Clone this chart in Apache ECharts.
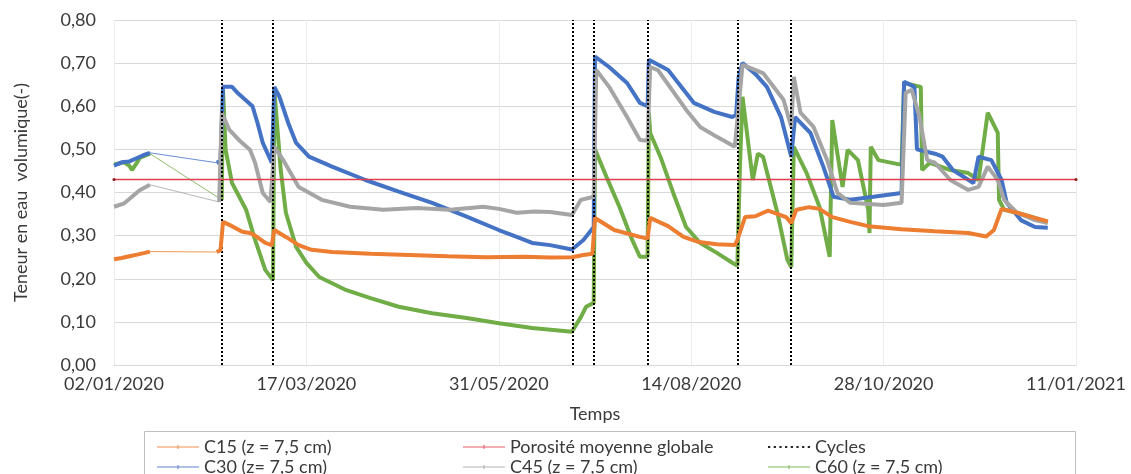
<!DOCTYPE html>
<html>
<head>
<meta charset="utf-8">
<script src="https://cdn.jsdelivr.net/npm/echarts@6/dist/echarts.min.js"></script>
<style>
  html, body { margin: 0; padding: 0; background: #fff; }
  #chart { width: 1131px; height: 474px; }
</style>
</head>
<body>
<div id="chart"></div>
<script>
// Days counted from 02/01/2020
const START_DATE = Date.UTC(2020, 0, 2);
const X_MAX_DAYS = 375;
const X_STEP_DAYS = 75;
const Y_TICKS = [0, 0.1, 0.2, 0.3, 0.4, 0.5, 0.6, 0.7, 0.8];

const porosity = 0.43;
const cycleDays = [42, 62, 179, 187, 208, 243, 264];

// C15 (orange)
const c15Early = [[0,0.245],[3,0.248],[6,0.252],[9,0.256],[12,0.260],[14,0.263]];
const c15Main = [[40,0.262],[41.5,0.266],[42.5,0.332],[46,0.322],[50,0.309],[53,0.306],[55,0.300],[59,0.283],[61.5,0.278],[62.5,0.313],[67,0.297],[72,0.278],[77,0.267],[85,0.262],[100,0.258],[115,0.255],[130,0.252],[145,0.250],[160,0.251],[170,0.249],[178.5,0.250],[183,0.255],[186.5,0.258],[187.5,0.341],[195,0.313],[205,0.297],[208,0.293],[209,0.341],[216,0.322],[222,0.297],[228,0.285],[235,0.280],[242,0.278],[243,0.290],[246,0.343],[250,0.345],[255,0.358],[262,0.343],[264,0.329],[266,0.360],[271,0.366],[275,0.362],[280,0.343],[287,0.332],[294,0.322],[307,0.315],[320,0.310],[333,0.306],[340,0.298],[343,0.313],[346,0.362],[352,0.353],[359,0.341],[364,0.333]];

// C30 (blue)
const c30Early = [[0,0.462],[3,0.470],[6,0.472],[9,0.480],[12,0.488],[14,0.492]];
const c30Main = [[40,0.469],[41.5,0.472],[42.5,0.645],[46,0.645],[48,0.632],[54,0.600],[56,0.560],[58,0.515],[61.5,0.469],[62.5,0.645],[64.5,0.622],[68,0.560],[71,0.515],[76,0.483],[85,0.460],[98,0.429],[111,0.402],[124,0.376],[137,0.345],[150,0.313],[157,0.297],[163,0.283],[170,0.278],[178.5,0.268],[183,0.290],[187,0.320],[187.5,0.715],[193,0.691],[200,0.654],[205,0.608],[208,0.600],[208.5,0.708],[216,0.684],[226,0.608],[234,0.587],[241,0.575],[242.5,0.580],[243.5,0.668],[245,0.700],[250,0.675],[254.5,0.645],[260,0.575],[264,0.483],[265.5,0.575],[271.5,0.538],[276.5,0.460],[280.5,0.390],[287,0.383],[296,0.390],[307,0.399],[308,0.657],[312,0.645],[313,0.500],[320,0.490],[323,0.483],[327,0.452],[335,0.422],[337,0.483],[342,0.475],[346,0.429],[348,0.376],[353.5,0.336],[359,0.320],[364,0.318]];

// C45 (grey)
const c45Early = [[0,0.367],[4,0.375],[7,0.390],[10,0.405],[14,0.418]];
const c45Main = [[41,0.378],[42,0.585],[45,0.545],[49,0.520],[53,0.499],[55,0.469],[58,0.399],[61,0.378],[62.5,0.506],[66,0.475],[72,0.413],[81,0.383],[92,0.367],[105,0.360],[118,0.364],[131,0.360],[144,0.367],[150,0.362],[157,0.353],[164,0.356],[170,0.355],[178.5,0.348],[182,0.383],[187,0.390],[188,0.684],[193,0.645],[200,0.575],[205,0.522],[208,0.520],[209,0.691],[212,0.684],[223,0.592],[228.5,0.552],[235,0.529],[242,0.506],[243.5,0.600],[245,0.696],[253,0.677],[261,0.615],[264,0.552],[265,0.668],[267.6,0.585],[272.7,0.552],[278,0.475],[282,0.399],[287,0.376],[300,0.371],[307,0.376],[308.6,0.631],[311,0.638],[314,0.575],[317,0.475],[320,0.469],[326,0.429],[333,0.406],[337,0.413],[340.6,0.460],[344.5,0.429],[347,0.383],[352,0.353],[359,0.336],[364,0.329]];

// C60 (green)
const c60Early = [[0,0.465],[4,0.470],[6,0.462],[7,0.452],[8.5,0.465],[10,0.480],[14,0.490]];
const c60Main = [[42,0.383],[42.5,0.638],[43.5,0.500],[46,0.422],[51.5,0.360],[55,0.290],[59,0.220],[62,0.197],[62.5,0.638],[65,0.452],[67,0.353],[71,0.274],[75,0.237],[80,0.204],[90,0.175],[100,0.155],[111,0.135],[124,0.120],[137.5,0.109],[150,0.097],[163,0.086],[178.5,0.077],[182,0.111],[184,0.135],[187,0.144],[187.5,0.500],[192,0.436],[197,0.367],[202,0.290],[205,0.251],[208,0.251],[208.5,0.585],[209,0.538],[213,0.483],[218,0.399],[223,0.320],[228.5,0.283],[235,0.260],[241,0.237],[243,0.230],[244,0.460],[245,0.622],[249,0.429],[251,0.490],[253,0.483],[258.6,0.353],[262.5,0.244],[264,0.227],[265,0.506],[270,0.445],[275,0.367],[279,0.251],[280,0.568],[282,0.490],[284,0.413],[286,0.499],[290,0.475],[294,0.360],[294.5,0.306],[295,0.506],[298,0.475],[307,0.464],[308,0.654],[314.5,0.645],[315,0.452],[318,0.469],[326,0.452],[333,0.445],[337,0.429],[340.6,0.585],[344.5,0.538],[345,0.383],[347,0.360],[352,0.353],[359,0.341],[364,0.332]];

const NAMES = {
  c15: 'C15 (z = 7,5 cm)',
  por: 'Porosité moyenne globale',
  cyc: 'Cycles',
  c30: 'C30 (z= 7,5 cm)',
  c45: 'C45 (z = 7,5 cm)',
  c60: 'C60 (z = 7,5 cm)'
};
const COLORS = { c15: '#ED7D31', c30: '#4472C4', c45: '#A5A5A5', c60: '#70AD47', por: '#E0404E', cyc: '#000000' };

function pad(n) { return (n < 10 ? '0' : '') + n; }
function fmtDate(d) {
  const dt = new Date(START_DATE + Math.round(d) * 86400000);
  return pad(dt.getUTCDate()) + '/' + pad(dt.getUTCMonth() + 1) + '/' + dt.getUTCFullYear();
}

function probeSeries(key, early, main, z) {
  const name = NAMES[key], color = COLORS[key];
  return [
    { name, type: 'line', data: early, symbol: 'none', z, lineStyle: { color, width: 4 }, itemStyle: { color } },
    { name, type: 'line', data: [early[early.length - 1], main[0]], symbol: 'none', z, lineStyle: { color, width: 1, opacity: 0.8 }, itemStyle: { color } },
    { name, type: 'line', data: main, symbol: 'none', z, lineStyle: { color, width: 4 }, itemStyle: { color } }
  ];
}

const FONT = 'Lato, "Open Sans", sans-serif';
const TEXT_COLOR = '#3A3A3A';
const lineIcon = 'path://M0,3h40v1h-40z M19.5,1.5h1v4h-1z';
const dotIcon = 'path://M0,0h1.2v1h-1.2z M3,0h1.2v1h-1.2z M6,0h1.2v1h-1.2z M9,0h1.2v1h-1.2z M12,0h1.2v1h-1.2z M15,0h1.2v1h-1.2z M18,0h1.2v1h-1.2z M21,0h1.2v1h-1.2z';

function legendAt(key, left, top, icon, h) {
  return {
    left, top, padding: 0, itemWidth: 42, itemHeight: h || 6, itemGap: 0,
    selectedMode: false,
    textStyle: { fontFamily: FONT, fontSize: 18, color: TEXT_COLOR, padding: [0, 0, 0, 0] },
    data: [{ name: NAMES[key], icon: icon || lineIcon, itemStyle: { color: COLORS[key], opacity: 0.85 } }]
  };
}

const chart = echarts.init(document.getElementById('chart'), null, { renderer: 'canvas' });

const series = [
  ...probeSeries('c60', c60Early, c60Main, 2),
  ...probeSeries('c30', c30Early, c30Main, 3),
  ...probeSeries('c45', c45Early, c45Main, 4),
  ...probeSeries('c15', c15Early, c15Main, 5),
  {
    name: NAMES.por, type: 'line', z: 6,
    data: [[0, porosity], [X_MAX_DAYS, porosity]],
    symbol: 'circle', symbolSize: 3,
    lineStyle: { color: COLORS.por, width: 1.5 }, itemStyle: { color: '#8B1A1A' }
  },
  {
    name: NAMES.cyc, type: 'line', z: 7, data: [], symbol: 'none',
    itemStyle: { color: '#000' },
    markLine: {
      silent: true, symbol: 'none', animation: false,
      label: { show: false },
      lineStyle: { color: '#000', width: 2, type: [2, 2] },
      data: cycleDays.map(d => ({ xAxis: d }))
    }
  }
];

chart.setOption({
  animation: false,
  backgroundColor: '#ffffff',
  grid: { left: 114, right: 55, top: 20, bottom: 109, containLabel: false },
  xAxis: {
    type: 'value', min: 0, max: X_MAX_DAYS, interval: X_STEP_DAYS,
    name: 'Temps', nameLocation: 'middle', nameGap: 40,
    nameTextStyle: { fontFamily: FONT, fontSize: 18, color: TEXT_COLOR },
    axisLine: { show: true, lineStyle: { color: '#D9D9D9', width: 1 } },
    axisTick: { show: false },
    axisLabel: { fontFamily: FONT, fontSize: 18, color: TEXT_COLOR, margin: 10, formatter: v => fmtDate(v) },
    splitLine: { show: true, lineStyle: { color: '#EBEBEB', width: 1 } }
  },
  yAxis: {
    type: 'value', min: Y_TICKS[0], max: Y_TICKS[Y_TICKS.length - 1], interval: 0.1,
    name: 'Teneur en eau  volumique(-)', nameLocation: 'middle', nameGap: 84,
    nameTextStyle: { fontFamily: FONT, fontSize: 18, color: TEXT_COLOR },
    axisLine: { show: false }, axisTick: { show: false },
    axisLabel: { fontFamily: FONT, fontSize: 18, color: TEXT_COLOR, margin: 18, formatter: v => v.toFixed(2).replace('.', ',') },
    splitLine: { show: true, lineStyle: { color: '#D9D9D9', width: 1 } }
  },
  legend: [
    legendAt('c15', 157, 438),
    legendAt('por', 463, 438),
    legendAt('cyc', 768, 438, dotIcon, 2),
    legendAt('c30', 157, 458),
    legendAt('c45', 463, 458),
    legendAt('c60', 768, 458)
  ],
  graphic: [{
    type: 'rect', left: 142, top: 429, z: -1, silent: true,
    shape: { width: 931, height: 60 },
    style: { fill: 'none', stroke: '#BFBFBF', lineWidth: 1 }
  }],
  series
});
</script>
</body>
</html>
